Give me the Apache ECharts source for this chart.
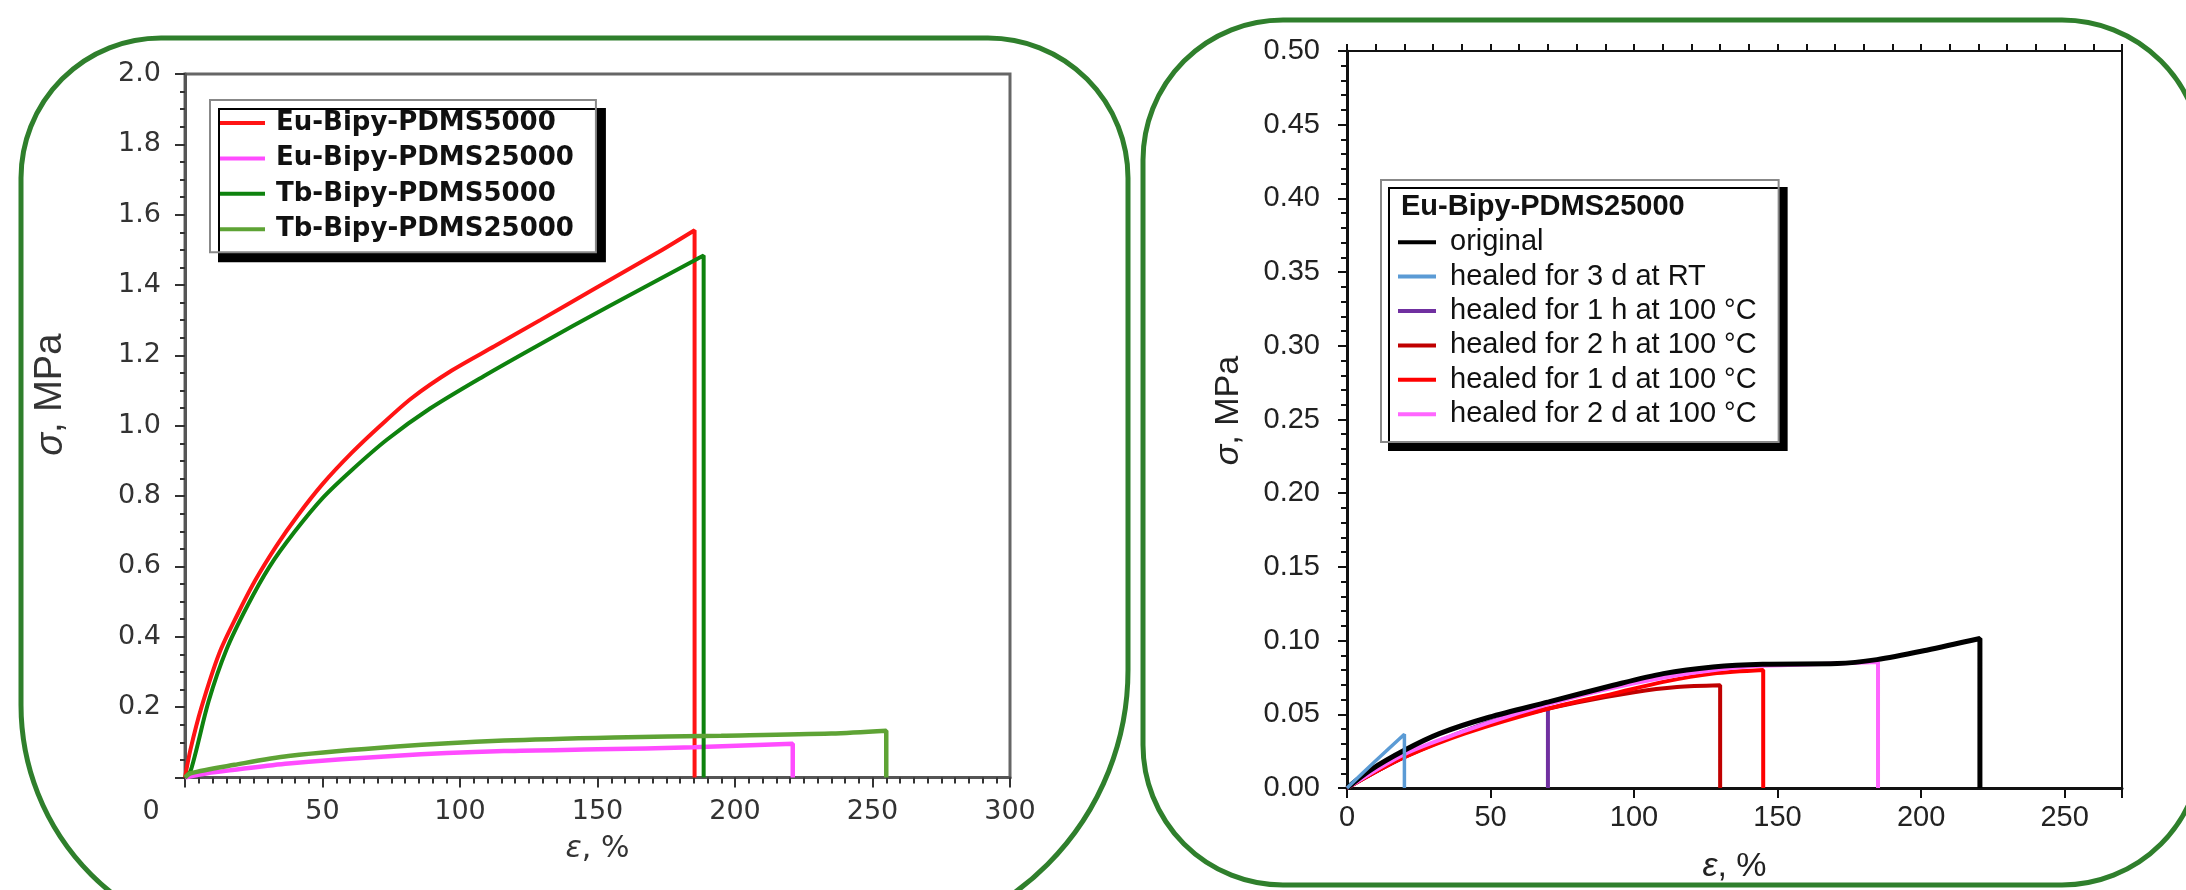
<!DOCTYPE html>
<html>
<head>
<meta charset="utf-8">
<script src="https://cdn.jsdelivr.net/npm/echarts@6/dist/echarts.min.js"></script>
<style>
  html, body { margin: 0; padding: 0; background: #fff; }
  #chart { width: 2186px; height: 890px; }
</style>
</head>
<body>
<div id="chart"></div>
<script>
// left panel: stress-strain, [strain %, stress MPa]
const euPdms5000 = [[0, 0], [2, 0.08], [6, 0.2], [12.5, 0.354], [19, 0.462], [25.5, 0.56], [33.2, 0.658], [41, 0.745], [50, 0.834], [60.5, 0.922], [71, 1.0], [82.5, 1.079], [97, 1.157], [112.5, 1.226], [129.3, 1.301], [147.5, 1.383], [172.2, 1.494], [185.3, 1.556], [185.3, 1.55], [185.3, 0]]
const euPdms25000 = [[0, 0], [8, 0.012], [18, 0.022], [37.6, 0.04], [77, 0.062], [116, 0.075], [150, 0.08], [185, 0.086], [221, 0.096], [221, 0.094], [221, 0]]
const tbPdms5000 = [[0, 0], [2.1, 0.02], [8.6, 0.217], [15.1, 0.364], [22.9, 0.491], [30.7, 0.599], [39.7, 0.697], [50.1, 0.795], [60.5, 0.873], [73.5, 0.961], [89.1, 1.049], [108.6, 1.141], [128, 1.227], [154, 1.339], [185.2, 1.47], [188.6, 1.484], [188.6, 1.478], [188.6, 0]]
const tbPdms25000 = [[0, 0], [2, 0.012], [18, 0.036], [37.6, 0.061], [77, 0.088], [116, 0.105], [156, 0.114], [195, 0.119], [235, 0.125], [255, 0.133], [255, 0.131], [255, 0]]

// right panel: Eu-Bipy-PDMS25000 healing
const original = [[0, 0], [8, 0.012], [20, 0.0256], [32.2, 0.0369], [49.5, 0.048], [70.3, 0.0584], [92.8, 0.0697], [110.2, 0.0776], [127.5, 0.0821], [144.8, 0.084], [170.8, 0.0844], [184.6, 0.0871], [201.9, 0.0935], [220.5, 0.1014], [220.5, 0.1008], [220.5, 0]]
const healed3dRT = [[0, 0], [10, 0.0185], [20, 0.0365], [20, 0.036], [20, 0]]
const healed1h100 = [[0, 0], [10, 0.011], [20, 0.021], [30, 0.03], [40, 0.038], [50, 0.045], [60, 0.05], [70, 0.054], [70, 0.0535], [70, 0]]
const healed2h100 = [[0, 0], [10, 0.011], [20, 0.021], [40, 0.037], [60, 0.049], [80, 0.058], [100, 0.065], [115, 0.0685], [130, 0.0697], [130, 0.0692], [130, 0]]
const healed1d100 = [[0, 0], [10, 0.011], [20, 0.021], [40.9, 0.0369], [70.3, 0.0539], [92.8, 0.064], [110.2, 0.072], [127.5, 0.0776], [145, 0.08], [145, 0.0795], [145, 0]]
const healed2d100 = [[0, 0], [20, 0.023], [40, 0.038], [60, 0.051], [80, 0.062], [100, 0.071], [120, 0.078], [140, 0.0825], [160, 0.0838], [185, 0.0855], [185, 0.085], [185, 0]]

const leftNames = ['Eu-Bipy-PDMS5000', 'Eu-Bipy-PDMS25000', 'Tb-Bipy-PDMS5000', 'Tb-Bipy-PDMS25000']
const rightNames = ['original', 'healed for 3 d at RT', 'healed for 1 h at 100 °C', 'healed for 2 h at 100 °C', 'healed for 1 d at 100 °C', 'healed for 2 d at 100 °C']

const chart = echarts.init(document.getElementById('chart'))

const wideFont = 'DejaVu Sans'
const arial = 'Liberation Sans'
const boxGreen = '#2f7f2c'

function line(name, data, color, width, x, y, z) {
  return {
    name: name,
    type: 'line',
    data: data,
    xAxisIndex: x,
    yAxisIndex: y,
    symbol: 'none',
    smooth: 0.3,
    z: z || 2,
    lineStyle: { color: color, width: width },
    itemStyle: { color: color },
    emphasis: { disabled: true },
  }
}

const option = {
  animation: false,
  backgroundColor: '#fff',
  graphic: [
    {
      type: 'rect',
      z: -10,
      shape: { x: 21, y: 38, width: 1107, height: 907, r: [140, 140, 275, 240] },
      style: { fill: 'none', stroke: boxGreen, lineWidth: 5 },
    },
    {
      type: 'rect',
      z: -10,
      shape: { x: 1143, y: 20, width: 1059, height: 865, r: 140 },
      style: { fill: 'none', stroke: boxGreen, lineWidth: 5 },
    },
    {
      type: 'text',
      z: 100,
      style: {
        x: 1401, y: 207,
        text: 'Eu-Bipy-PDMS25000',
        font: 'bold 29px "Liberation Sans"',
        fill: '#111',
        verticalAlign: 'middle',
      },
    },
  ],
  grid: [
    { left: 185, top: 74, width: 825, height: 703.5, show: true, borderColor: '#666', borderWidth: 3 },
    { left: 1347, top: 51, width: 775, height: 737, show: true, borderColor: '#111', borderWidth: 2 },
  ],
  legend: [
    {
      data: leftNames,
      left: 210, top: 100,
      orient: 'vertical',
      icon: 'rect',
      itemWidth: 45, itemHeight: 4, itemGap: 5.4,
      padding: [8, 22, 8, 10],
      backgroundColor: '#fff',
      borderColor: '#888', borderWidth: 2,
      shadowColor: '#000', shadowOffsetX: 9, shadowOffsetY: 9, shadowBlur: 0,
      selectedMode: false,
      textStyle: { fontFamily: wideFont, fontWeight: 'bold', fontSize: 26, lineHeight: 30, color: '#111', padding: [0, 0, 0, 6] },
    },
    {
      data: rightNames,
      left: 1381, top: 180,
      orient: 'vertical',
      icon: 'rect',
      itemWidth: 38, itemHeight: 4, itemGap: 5.4,
      padding: [47.7, 22, 13.3, 17],
      backgroundColor: '#fff',
      borderColor: '#888', borderWidth: 2,
      shadowColor: '#000', shadowOffsetX: 8, shadowOffsetY: 8, shadowBlur: 0,
      selectedMode: false,
      textStyle: { fontFamily: arial, fontSize: 29, lineHeight: 28, color: '#111', padding: [0, 0, 0, 9] },
    },
  ],
  xAxis: [
    {
      gridIndex: 0, type: 'value', min: 0, max: 300, interval: 50,
      axisLine: { lineStyle: { color: '#555', width: 3 } },
      axisTick: { length: 10, lineStyle: { color: '#333', width: 2 } },
      minorTick: { show: true, splitNumber: 10, length: 6, lineStyle: { color: '#333', width: 2 } },
      splitLine: { show: false },
      axisLabel: {
        margin: 21, fontSize: 27, fontFamily: wideFont, color: '#333',
        formatter: (v) => (v === 0 ? '{z|0}' : String(v)),
        rich: { z: { fontSize: 27, fontFamily: wideFont, color: '#333', padding: [0, 68, 0, 0] } },
      },
      name: '{i|ε}, %', nameLocation: 'middle', nameGap: 57,
      nameTextStyle: { fontSize: 30, fontFamily: wideFont, color: '#333', rich: { i: { fontSize: 30, fontFamily: wideFont, fontStyle: 'italic', color: '#333' } } },
    },
    {
      gridIndex: 1, type: 'value', min: 0, max: 270, interval: 50,
      axisLine: { lineStyle: { color: '#111', width: 3 } },
      axisTick: { length: 10, lineStyle: { color: '#111', width: 2 } },
      splitLine: { show: false },
      axisLabel: {
        margin: 15, fontSize: 29, fontFamily: arial, color: '#222',
        formatter: (v) => (v % 50 === 0 ? String(v) : ''),
      },
      name: '{i|ε}, %', nameLocation: 'middle', nameGap: 62,
      nameTextStyle: { fontSize: 34, fontFamily: arial, color: '#222', rich: { i: { fontSize: 34, fontFamily: arial, fontStyle: 'italic', color: '#222' } } },
    },
    {
      gridIndex: 1, type: 'value', min: 0, max: 270, interval: 10,
      axisLine: { show: false },
      axisTick: { length: 7, lineStyle: { color: '#111', width: 2 } },
      axisLabel: { show: false },
      splitLine: { show: false },
    },
  ],
  yAxis: [
    {
      gridIndex: 0, type: 'value', min: 0, max: 2, interval: 0.2,
      axisLine: { lineStyle: { color: '#555', width: 3 } },
      axisTick: { length: 10, lineStyle: { color: '#333', width: 2 } },
      minorTick: { show: true, splitNumber: 4, length: 5, lineStyle: { color: '#333', width: 2 } },
      splitLine: { show: false },
      axisLabel: {
        margin: 24, fontSize: 27, fontFamily: wideFont, color: '#333',
        formatter: (v) => (v === 0 ? '' : v.toFixed(1)),
      },
      name: '{i|σ}, MPa', nameLocation: 'middle', nameGap: 115,
      nameTextStyle: { fontSize: 38, fontFamily: arial, color: '#333', padding: [0, 0, 0, 62], rich: { i: { fontSize: 38, fontFamily: arial, fontStyle: 'italic', color: '#333' } } },
    },
    {
      gridIndex: 1, type: 'value', min: 0, max: 0.5, interval: 0.05,
      axisLine: { lineStyle: { color: '#111', width: 3 } },
      axisTick: { length: 9, lineStyle: { color: '#111', width: 2 } },
      minorTick: { show: true, splitNumber: 5, length: 6, lineStyle: { color: '#111', width: 2 } },
      splitLine: { show: false },
      axisLabel: {
        margin: 27, fontSize: 29, fontFamily: arial, color: '#222',
        formatter: (v) => v.toFixed(2),
      },
      name: '{i|σ}, MPa', nameLocation: 'middle', nameGap: 101,
      nameTextStyle: { fontSize: 34, fontFamily: arial, color: '#222', padding: [0, 0, 0, 18], rich: { i: { fontSize: 34, fontFamily: arial, fontStyle: 'italic', color: '#222' } } },
    },
  ],
  series: [
    line(leftNames[0], euPdms5000, '#ff1414', 4, 0, 0),
    line(leftNames[1], euPdms25000, '#ff4cff', 4.5, 0, 0),
    line(leftNames[2], tbPdms5000, '#0e820e', 4, 0, 0),
    line(leftNames[3], tbPdms25000, '#5ea335', 4.5, 0, 0),

    line(rightNames[0], original, '#000000', 5, 1, 1, 4),
    line(rightNames[1], healed3dRT, '#5b9bd5', 3.5, 1, 1, 5),
    line(rightNames[2], healed1h100, '#7030a0', 4, 1, 1, 3),
    line(rightNames[3], healed2h100, '#c00000', 4, 1, 1, 3),
    line(rightNames[4], healed1d100, '#ff0000', 4, 1, 1, 3),
    line(rightNames[5], healed2d100, '#ff66ff', 4, 1, 1, 3),
  ],
}

chart.setOption(option)
</script>
</body>
</html>
